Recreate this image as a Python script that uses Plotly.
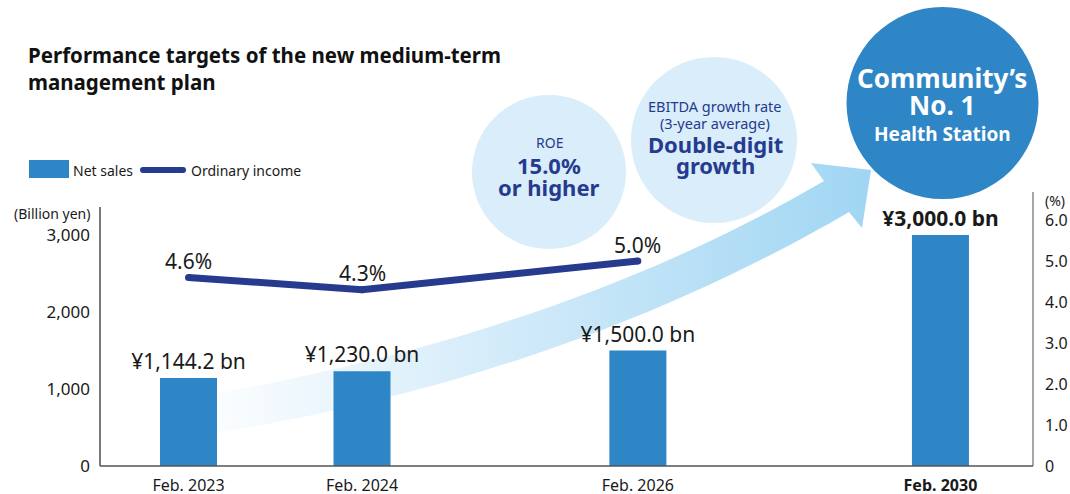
import plotly.graph_objects as go

# ---------------- data ----------------
categories = ["Feb. 2023", "Feb. 2024", "Feb. 2026", "Feb. 2030"]
net_sales = [1144.2, 1230.0, 1500.0, 3000.0]          # billion yen
ordinary_margin = [4.6, 4.3, 5.0]                      # % (first three periods)
left_tick_vals = [0, 1000, 2000, 3000]
left_tick_text = ["0", "1,000", "2,000", "3,000"]
right_tick_vals = [0, 1, 2, 3, 4, 5, 6]
right_tick_text = ["0", "1.0", "2.0", "3.0", "4.0", "5.0", "6.0"]
highlight = [False, False, False, True]

# ---------------- layout config ----------------
W, H = 1070, 494
L, R, T, B = 100, 1033, 0, 466          # plot area in pixels
slot = [0, 1, 2.59, 4.334]              # horizontal slot of each period
unit = 173.5                            # px per slot unit
x0px = 188.5                            # pixel of slot 0
bar_px = 57

FONT = "Noto Sans"
BAR_C = "#2e86c6"
NAVY = "#263b8e"
LIGHT = "#d9edfa"
TXT = "#1a1a1a"


def PX(x):
    return (x - L) / (R - L)


def PY(y):
    return (B - y) / (B - T)


def bezier(p0, p1, p2, n=30):
    out = []
    for i in range(n + 1):
        t = i / n
        a, b, c = (1 - t) ** 2, 2 * t * (1 - t), t ** 2
        out.append((a * p0[0] + b * p1[0] + c * p2[0], a * p0[1] + b * p1[1] + c * p2[1]))
    return out


fig = go.Figure()

# decorative growth arrow (pixel coordinates on hidden base axes)
upper = bezier((185, 399), (560, 336), (824, 181))
head = [(811, 163), (871, 170), (862, 228)]
lower = bezier((849, 212), (560, 381), (185, 438))
pts = upper + head + lower
fig.add_trace(go.Scatter(
    x=[p[0] for p in pts] + [pts[0][0]],
    y=[p[1] for p in pts] + [pts[0][1]],
    mode="lines", line=dict(width=0), fill="toself",
    fillgradient=dict(type="horizontal", colorscale=[
        [0.0, "rgba(160,212,243,0.0)"],
        [0.12, "rgba(160,212,243,0.12)"],
        [0.45, "rgba(160,212,243,0.45)"],
        [1.0, "rgba(160,214,243,1.0)"]]),
    hoverinfo="skip", showlegend=False, xaxis="x", yaxis="y"))

# net sales bars
bar_text = [("<b>¥{:,.1f} bn</b>" if h else "¥{:,.1f} bn").format(v)
            for v, h in zip(net_sales, highlight)]
fig.add_trace(go.Bar(
    x=slot, y=net_sales, width=bar_px / unit, marker=dict(color=BAR_C, line=dict(width=0)),
    text=bar_text, textposition="outside", constraintext="none",
    textfont=dict(size=21, color=TXT, family=FONT),
    cliponaxis=False, name="Net sales", showlegend=False, xaxis="x2", yaxis="y2"))

# ordinary income margin line
line_x = slot[:len(ordinary_margin)]
fig.add_trace(go.Scatter(
    x=line_x, y=ordinary_margin, mode="lines+markers",
    line=dict(color=NAVY, width=7), marker=dict(color=NAVY, size=7),
    cliponaxis=False, name="Ordinary income", showlegend=False, xaxis="x2", yaxis="y3"))

shapes = []
# axis lines
shapes.append(dict(type="line", xref="paper", yref="paper", x0=0, x1=0, y0=PY(207), y1=PY(466),
                   line=dict(color="#333333", width=1.3)))
shapes.append(dict(type="line", xref="paper", yref="paper", x0=1, x1=1, y0=PY(192), y1=PY(466),
                   line=dict(color="#777777", width=1.3)))
shapes.append(dict(type="line", xref="paper", yref="paper", x0=0, x1=1, y0=PY(466), y1=PY(466),
                   line=dict(color="#555555", width=1.3)))


def circle(cx, cy, r, color):
    return dict(type="circle", xref="paper", yref="paper", layer="above",
                x0=PX(cx - r), x1=PX(cx + r), y0=PY(cy + r), y1=PY(cy - r),
                fillcolor=color, line=dict(width=0))


shapes.append(circle(549, 172, 77, LIGHT))
shapes.append(circle(714, 140, 83, LIGHT))
shapes.append(circle(942.5, 103, 96, BAR_C))

# custom legend
shapes.append(dict(type="rect", xref="paper", yref="paper", x0=PX(29), x1=PX(69),
                   y0=PY(178), y1=PY(160), fillcolor=BAR_C, line=dict(width=0)))
shapes.append(dict(type="line", xref="paper", yref="paper", x0=PX(143), x1=PX(183),
                   y0=PY(170), y1=PY(170), line=dict(color=NAVY, width=6)))
for ex in (143, 183):
    shapes.append(dict(type="circle", xref="paper", yref="paper", x0=PX(ex - 3), x1=PX(ex + 3),
                       y0=PY(173), y1=PY(167), fillcolor=NAVY, line=dict(width=0)))

ann = []

# margin labels above the line points
for xv, v in zip(line_x, ordinary_margin):
    ann.append(dict(xref="x2", yref="y3", x=xv, y=v, yshift=16.5, xanchor="center",
                    yanchor="middle", showarrow=False, text="{:.1f}%".format(v),
                    font=dict(size=21, color=TXT, family=FONT)))


def text(x, y, s, size, color=TXT, bold=False, xanchor="center"):
    ann.append(dict(xref="paper", yref="paper", x=PX(x), y=PY(y), xanchor=xanchor,
                    yanchor="middle", showarrow=False,
                    text=("<b>%s</b>" % s) if bold else s,
                    font=dict(size=size, color=color, family=FONT)))


# title
text(26, 55, "Performance targets of the new medium-term", 20.5, "#111111", True, "left")
text(26, 82, "management plan", 20.5, "#111111", True, "left")
# legend labels
text(71, 170, "Net sales", 14, TXT, False, "left")
text(189, 170, "Ordinary income", 14, TXT, False, "left")
# axis units
text(92, 214, "(Billion yen)", 14, TXT, False, "right")
text(1043, 200, "(%)", 14, TXT, False, "left")
# ROE circle
text(549, 142, "ROE", 14, NAVY)
text(549, 165, "15.0%", 22, NAVY, True)
text(549, 187, "or higher", 22, NAVY, True)
# EBITDA circle
text(715, 106, "EBITDA growth rate", 14.5, NAVY)
text(715, 123, "(3-year average)", 14.5, NAVY)
text(715, 144, "Double-digit", 22, NAVY, True)
text(715, 165, "growth", 22, NAVY, True)
# Community circle
text(942, 78, "Community’s", 26, "white", True)
text(942, 105, "No. 1", 26, "white", True)
text(942, 134, "Health Station", 19, "white", True)

tick_text_x = [("<b>%s</b>" % c) if h else c for c, h in zip(categories, highlight)]

fig.update_layout(
    width=W, height=H,
    margin=dict(l=L, r=W - R, t=T, b=H - B, pad=0, autoexpand=False),
    paper_bgcolor="white", plot_bgcolor="rgba(0,0,0,0)",
    font=dict(family=FONT, color=TXT),
    showlegend=False,
    shapes=shapes, annotations=ann,
    xaxis=dict(domain=[0, 1], range=[L, R], visible=False, fixedrange=True, automargin=False),
    yaxis=dict(domain=[0, 1], range=[B, T], visible=False, fixedrange=True, automargin=False),
    xaxis2=dict(overlaying="x", anchor="y2", side="bottom", automargin=False,
                range=[(L - x0px) / unit, (R - x0px) / unit],
                tickvals=slot, ticktext=tick_text_x, ticks="", ticklabelstandoff=8,
                showgrid=False, zeroline=False, showline=False,
                tickfont=dict(size=16, color=TXT, family=FONT)),
    yaxis2=dict(overlaying="y", anchor="x2", side="left", automargin=False,
                range=[0, 3000 * (B - T) / (466 - 235)],
                tickvals=left_tick_vals, ticktext=left_tick_text, ticks="", ticklabelstandoff=9,
                showgrid=False, zeroline=False, showline=False,
                tickfont=dict(size=17, color=TXT, family=FONT)),
    yaxis3=dict(overlaying="y", anchor="x2", side="right", automargin=False,
                range=[0, 6 * (B - T) / (466 - 220)],
                tickvals=right_tick_vals, ticktext=right_tick_text, ticks="", ticklabelstandoff=11,
                showgrid=False, zeroline=False, showline=False,
                tickfont=dict(size=16, color=TXT, family=FONT)),
)

fig.write_html("out.html", config={"displayModeBar": False},
               post_script="document.body.style.margin='0';document.body.style.overflow='hidden';")
